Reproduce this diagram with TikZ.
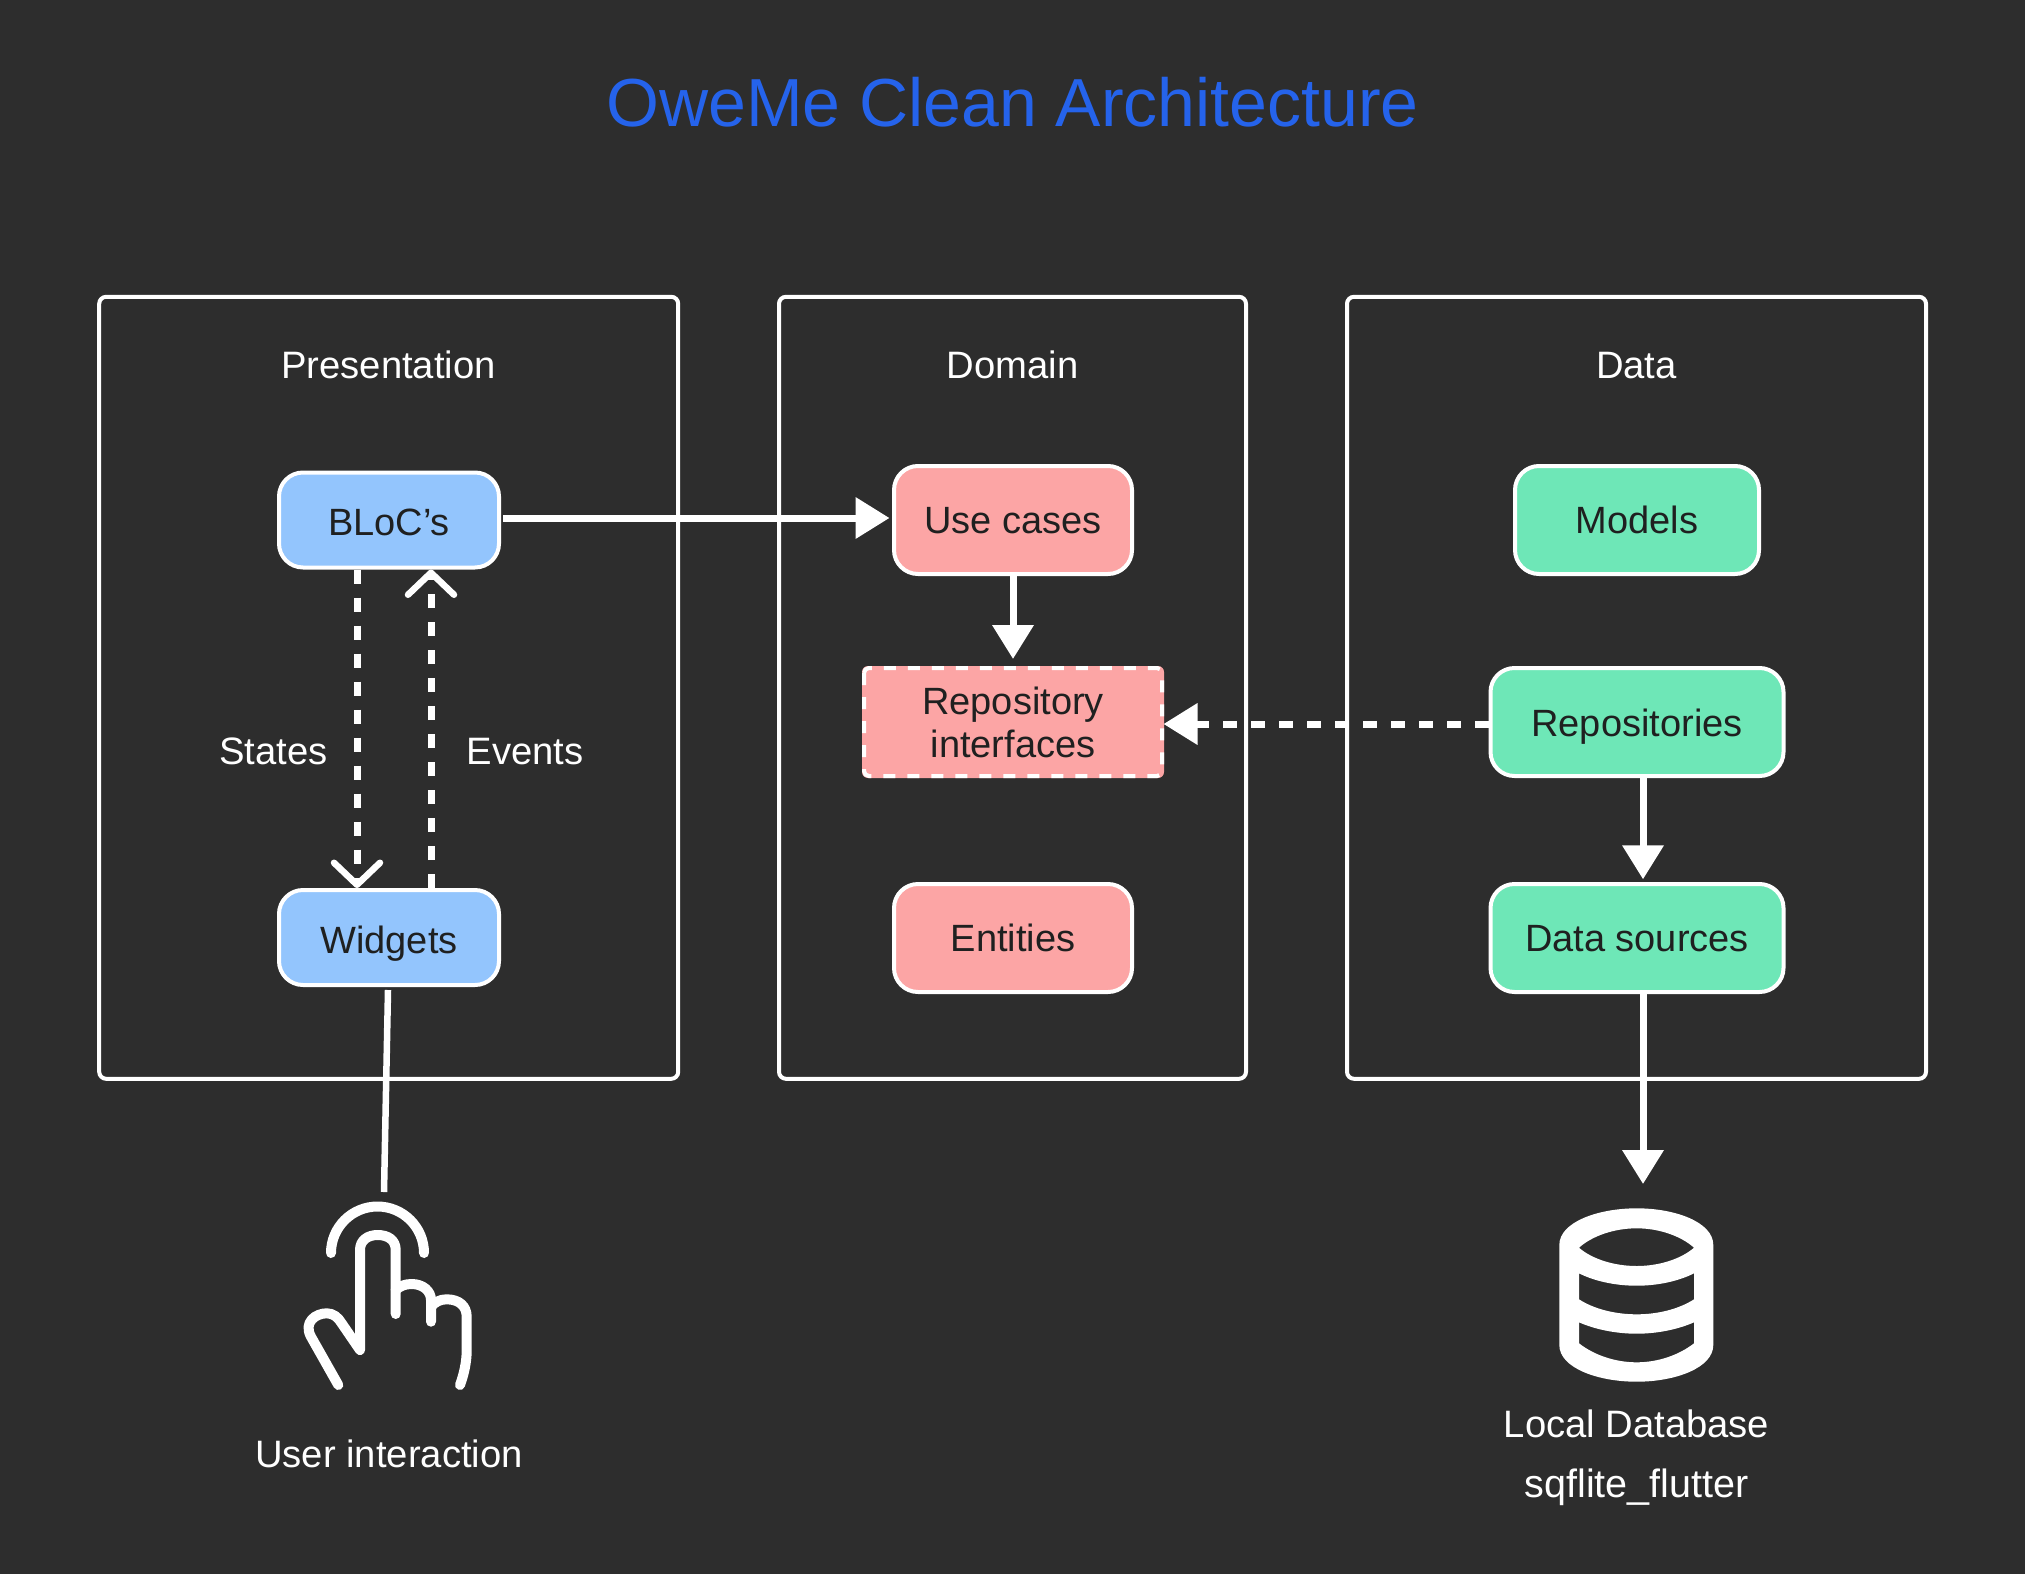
\documentclass[tikz,border=0pt]{standalone}
\usepackage{fontspec}
\setmainfont{Liberation Sans}
\usetikzlibrary{arrows.meta}

\definecolor{bgdark}{HTML}{2D2D2D}
\definecolor{titleblue}{HTML}{2563EB}
\definecolor{boxblue}{HTML}{93C5FD}
\definecolor{boxred}{HTML}{FCA5A5}
\definecolor{boxgreen}{HTML}{6EE7B7}
\definecolor{inkdark}{HTML}{1F2020}

\tikzset{
  panel/.style={draw=white, line width=4pt, rounded corners=7pt},
  label/.style={text=white, inner sep=0pt, font=\fontsize{38.2}{44}\selectfont, text height=27pt, text depth=0pt},
  block/.style={draw=white, line width=4pt, rounded corners=24pt, inner sep=0pt, text=inkdark,
    font=\fontsize{38}{44}\selectfont, align=center, text height=27pt, text depth=0pt},
  flow/.style={draw=white, line width=7pt, line cap=butt, -{Triangle[length=34pt,width=40pt]}},
  dashflow/.style={draw=white, line width=7pt, line cap=butt, dash pattern=on 14pt off 14pt},
  barb/.style={-{Straight Barb[length=22pt,width=46pt,line width=6.5pt,round]}},
  iconline/.style={draw=white, line width=10pt, line cap=round, line join=round},
}

\begin{document}
\begin{tikzpicture}[x=1pt, y=-1pt]

  %% ---- canvas ----
  \fill[bgdark] (-2,-2) rectangle (2027,1575);

  %% ---- panels ----
  \node[panel, minimum width=579pt, minimum height=782pt] (presentation) at (388.7,687.8) {};
  \node[panel, minimum width=467pt, minimum height=782pt] (domain) at (1012.5,687.8) {};
  \node[panel, minimum width=579pt, minimum height=782pt] (data) at (1636.5,687.8) {};

  %% ---- labels ----
  \node[text=titleblue, inner sep=0pt, font=\fontsize{68}{72}\selectfont] (title) at (1012.5,102) {OweMe Clean Architecture};
  \node[label] (presentationlabel) at (388.5,365) {Presentation};
  \node[label] (domainlabel) at (1012.5,365) {Domain};
  \node[label] (datalabel) at (1636.5,365) {Data};
  \node[label] (stateslabel) at (273.5,751) {States};
  \node[label] (eventslabel) at (525,751) {Events};
  \node[label] (userlabel) at (389,1454) {User interaction};
  \node[label] (dblabel) at (1636.5,1424) {Local Database};
  \node[label, font=\fontsize{39.5}{44}\selectfont] (sqflabel) at (1636.5,1484) {sqflite\_flutter};

  %% ---- blocks ----
  \node[block, fill=boxblue, text height=31pt, minimum width=220pt, minimum height=95pt] (bloc) at (389,520) {BLoC’s};
  \node[block, fill=boxblue, text height=31pt, minimum width=220pt, minimum height=95pt] (widgets) at (389,937.5) {Widgets};
  \node[block, fill=boxred, minimum width=238pt, minimum height=108pt] (usecases) at (1013,520) {Use cases};
  \node[block, fill=boxred, minimum width=238pt, minimum height=108pt] (entities) at (1013,938) {Entities};
  \node[block, fill=boxgreen, minimum width=244pt, minimum height=108pt] (models) at (1637,520) {Models};
  \node[block, fill=boxgreen, text height=29pt, minimum width=293pt, minimum height=108pt] (repositories) at (1637,722) {Repositories};
  \node[block, fill=boxgreen, minimum width=293pt, minimum height=108pt] (datasources) at (1637,938) {Data sources};
  % dashed outline goes on top of the fill
  \node[block, fill=boxred, draw=none, outer sep=0pt, rounded corners=6pt, text height=, text depth=, minimum width=302pt, minimum height=112pt] (interfaces) at (1013,722) {Repository\\[-1pt]interfaces};
  \draw[white, line width=4pt, dash pattern=on 12pt off 12pt, rounded corners=5pt]
    ([xshift=2pt,yshift=-2pt]interfaces.north west) rectangle ([xshift=-2pt,yshift=2pt]interfaces.south east);

  %% ---- connectors ----
  \coordinate (handtop) at (384,1192);
  \coordinate (dbtop) at (1643,1184);

  \draw[flow] ([xshift=2pt,yshift=2pt]bloc.east) -- ([xshift=-2.5pt,yshift=2pt]usecases.west);
  \draw[flow] (usecases.south) -- ([yshift=7pt]interfaces.north);
  \draw[flow] ([xshift=6pt]repositories.south) -- ([xshift=6pt,yshift=2.7pt]datasources.north);
  \draw[flow] ([xshift=6pt]datasources.south) -- (dbtop);
  \draw[dashflow, -{Triangle[length=34pt,width=40pt]}] ([yshift=-2pt]repositories.west) -- ([xshift=-.5pt,yshift=-2pt]interfaces.east);
  \draw[dashflow, barb] ([xshift=-32pt]bloc.south) -- ([xshift=-32pt]widgets.north);
  \draw[dashflow, barb] ([xshift=42pt]widgets.north) -- ([xshift=42pt]bloc.south);
  \draw[white, line width=6.5pt] ([xshift=-1pt,yshift=-3pt]widgets.south) -- (handtop);

  %% ---- hand ----
  \draw[iconline] (331,1253) arc[start angle=180, end angle=360, radius=46.5];
  \draw[iconline] (338.3,1385) -- (311,1336.7) .. controls (303,1322) and (316,1313.3) .. (326.7,1313.3)
    .. controls (333,1313.3) and (338,1317) .. (341.7,1323.3) -- (360,1350) -- (360,1250)
    .. controls (360,1240) and (368,1235) .. (377.7,1235) .. controls (388,1235) and (395.7,1240) .. (395.7,1250) -- (395.7,1314);
  \draw[iconline] (395.7,1290) .. controls (400,1286) and (405,1284) .. (411.7,1284)
    .. controls (423,1284) and (431,1291) .. (431,1300) -- (431,1321.7);
  \draw[iconline] (431,1306.7) .. controls (435,1302) and (440,1299.3) .. (446.7,1299.3)
    .. controls (459,1299.3) and (466.7,1306) .. (466.7,1316.7) -- (466.7,1350) .. controls (466.7,1362) and (464,1374) .. (460,1385);

  %% ---- database ----
  \fill[white, even odd rule]
    (1559.3,1245) .. controls (1559.3,1222) and (1598,1208.3) .. (1636.7,1208.3)
      .. controls (1675,1208.3) and (1713.3,1222) .. (1713.3,1245) -- (1713.3,1345)
      .. controls (1713.3,1368) and (1675,1381.7) .. (1636.7,1381.7)
      .. controls (1598,1381.7) and (1559.3,1368) .. (1559.3,1345) -- cycle
    (1579,1247.7) .. controls (1592,1236) and (1614,1228.3) .. (1636.7,1228.3)
      .. controls (1659,1228.3) and (1681,1236) .. (1694,1247.7)
      .. controls (1681,1259) and (1659,1266) .. (1636.7,1266)
      .. controls (1614,1266) and (1592,1259) .. cycle
    (1579,1273.3) -- (1579,1299.3) .. controls (1594,1309) and (1615,1314.3) .. (1636.7,1314.3)
      .. controls (1658,1314.3) and (1679,1309) .. (1694,1299.3) -- (1694,1273.3)
      .. controls (1679,1281) and (1658,1285.7) .. (1636.7,1285.7)
      .. controls (1615,1285.7) and (1594,1281) .. cycle
    (1579,1322.3) -- (1579,1343.3) .. controls (1594,1355) and (1615,1362.3) .. (1636.7,1362.3)
      .. controls (1658,1362.3) and (1679,1355) .. (1694,1343.3) -- (1694,1322.3)
      .. controls (1679,1329) and (1658,1333.7) .. (1636.7,1333.7)
      .. controls (1615,1333.7) and (1594,1329) .. cycle;

  \pgfresetboundingbox
  \path[use as bounding box] (0,0) rectangle (2025,1573);
\end{tikzpicture}
\end{document}
